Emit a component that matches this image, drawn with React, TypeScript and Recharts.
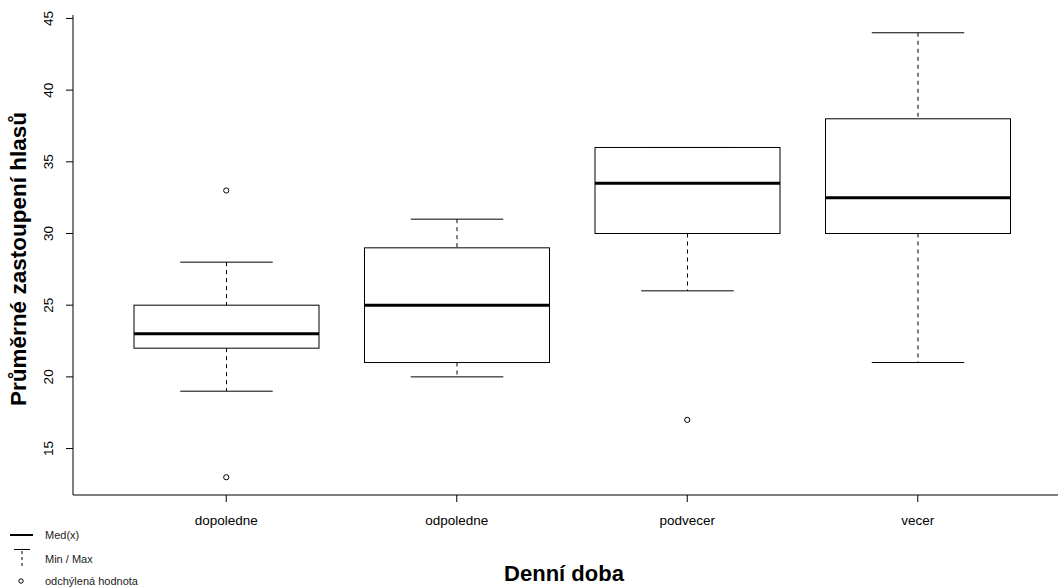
import { ComposedChart, Bar, Scatter, XAxis, YAxis } from "recharts"

// values
const categories = ["dopoledne", "odpoledne", "podvecer", "vecer"]
const whiskerLow = [19, 20, 26, 21]
const quartile1 = [22, 21, 30, 30]
const medians = [23, 25, 33.5, 32.5]
const quartile3 = [25, 29, 36, 38]
const whiskerHigh = [28, 31, 36, 44]
const outliersHigh = [33, null, null, null]
const outliersLow = [13, null, 17, null]
const yTicks = [15, 20, 25, 30, 35, 40, 45]

const data = categories.map((name, i) => ({
  name,
  min: whiskerLow[i],
  q1: quartile1[i],
  median: medians[i],
  q3: quartile3[i],
  max: whiskerHigh[i],
  outHigh: outliersHigh[i],
  outLow: outliersLow[i],
}))

const FONT = '"Liberation Sans", Arial, Helvetica, sans-serif'
const INK = "#000"

// box + whiskers drawn inside the range bar [min, max]
const BoxShape = (props: any) => {
  const { x, y, width, height, payload } = props
  const lo = payload.min
  const hi = payload.max
  const toY = (v: number) => y + ((hi - v) / (hi - lo)) * height
  const cx = x + width / 2
  const cap = width / 4
  const yMax = toY(payload.max)
  const yMin = toY(payload.min)
  const yQ3 = toY(payload.q3)
  const yQ1 = toY(payload.q1)
  const yMed = toY(payload.median)
  return (
    <g>
      <line x1={cx} x2={cx} y1={yMax} y2={yQ3} stroke={INK} strokeDasharray="4 4" />
      <line x1={cx} x2={cx} y1={yQ1} y2={yMin} stroke={INK} strokeDasharray="4 4" />
      <line x1={cx - cap} x2={cx + cap} y1={yMax} y2={yMax} stroke={INK} />
      <line x1={cx - cap} x2={cx + cap} y1={yMin} y2={yMin} stroke={INK} />
      <rect x={x} y={yQ3} width={width} height={yQ1 - yQ3} fill="none" stroke={INK} />
      <line x1={x} x2={x + width} y1={yMed} y2={yMed} stroke={INK} strokeWidth={3} />
    </g>
  )
}

const outlierShape = (key: string) => (props: any) => {
  const { cx, cy, payload } = props
  if (payload == null || payload[key] == null || !Number.isFinite(cy)) return <g />
  return <circle cx={cx} cy={cy} r={2.6} fill="none" stroke={INK} strokeWidth={1} />
}

const YTick = ({ x, y, payload }: any) => (
  <text x={x} y={y} transform={`rotate(-90, ${x}, ${y})`} textAnchor="middle" fontSize={13.5} fontFamily={FONT} fill={INK}>
    {payload.value}
  </text>
)

const XTick = ({ x, y, payload }: any) => (
  <text x={x} y={y + 10} textAnchor="middle" fontSize={13.5} fontFamily={FONT} fill={INK}>
    {payload.value}
  </text>
)

export default function App() {
  return (
    <div style={{ position: "absolute", left: 0, top: 0, width: 1058, height: 587, overflow: "hidden", background: "#fff" }}>
      <ComposedChart width={1075} height={587} data={data} margin={{ top: 15, right: 6, bottom: 22, left: 0 }}>
        <XAxis
          dataKey="name"
          height={70}
          padding={{ left: 38, right: 36 }}
          tickSize={7}
          tickMargin={13}
          tick={<XTick />}
          axisLine={{ stroke: INK }}
          tickLine={{ stroke: INK }}
          label={() => (
            <text x={564} y={581} textAnchor="middle" fontSize={22} fontWeight="bold" fontFamily={FONT} fill={INK}>
              Denní doba
            </text>
          )}
        />
        <XAxis xAxisId="top" dataKey="name" orientation="top" height={0} tick={false} tickLine={false} axisLine={{ stroke: INK }} />
        <YAxis
          type="number"
          domain={[11.76, 45.24]}
          ticks={yTicks}
          width={73}
          tickSize={7}
          tickMargin={12.5}
          tick={<YTick />}
          axisLine={{ stroke: INK }}
          tickLine={{ stroke: INK }}
          allowDataOverflow
          label={() => (
            <text x={26} y={259} transform="rotate(-90, 26, 259)" textAnchor="middle" fontSize={22.5} fontWeight="bold" fontFamily={FONT} fill={INK}>
              Průměrné zastoupení hlasů
            </text>
          )}
        />
        <Bar dataKey={(d: any) => [d.min, d.max]} barSize={185} shape={<BoxShape />} isAnimationActive={false} />
        <Scatter dataKey="outHigh" shape={outlierShape("outHigh")} isAnimationActive={false} />
        <Scatter dataKey="outLow" shape={outlierShape("outLow")} isAnimationActive={false} />
      </ComposedChart>
      <svg width={200} height={67} style={{ position: "absolute", left: 0, top: 520 }} fontFamily={FONT}>
        <line x1={10} x2={33} y1={15} y2={15} stroke={INK} strokeWidth={2} />
        <text x={45} y={15} dominantBaseline="central" fontSize={11} fill="#222">Med(x)</text>
        <line x1={14} x2={30} y1={29.5} y2={29.5} stroke={INK} />
        <line x1={22} x2={22} y1={31} y2={48} stroke={INK} strokeDasharray="3 3" />
        <text x={45} y={39} dominantBaseline="central" fontSize={11} fill="#222">Min / Max</text>
        <circle cx={21} cy={61} r={2.2} fill="none" stroke={INK} />
        <text x={45} y={61} dominantBaseline="central" fontSize={11} fill="#222">odchýlená hodnota</text>
      </svg>
    </div>
  )
}
